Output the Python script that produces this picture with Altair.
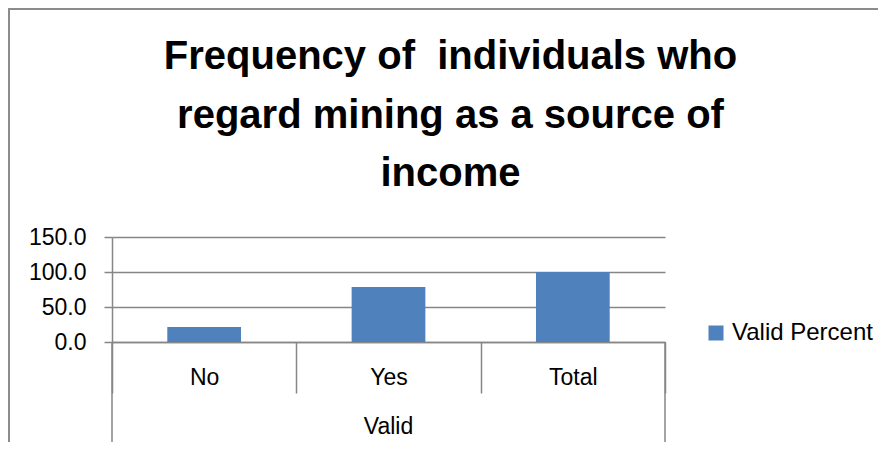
import altair as alt
import pandas as pd

categories = ["No", "Yes", "Total"]
valid_percent = [21.4, 78.6, 100.0]
series_name = "Valid Percent"
group_label = "Valid"
title_lines = ["Frequency of\u00a0 individuals who", "regard mining as a source of", "income"]
y_ticks = [0, 50, 100, 150]

df = pd.DataFrame({"cat": categories, "value": valid_percent, "series": [series_name] * len(categories)})
one = pd.DataFrame({"label": [group_label]})

W, H = 553, 105
FONT = "Liberation Sans"
GRAY = "#868686"

bars = alt.Chart(df).mark_bar(width=alt.RelativeBandSize(0.4), color="#4F81BD").encode(
    x=alt.X("cat:N", sort=categories, title=None,
            scale=alt.Scale(paddingInner=0, paddingOuter=0),
            axis=alt.Axis(tickBand="extent", tickSize=51, tickColor=GRAY, tickWidth=1.5,
                          domainColor=GRAY, domainWidth=1.5, labelAngle=0,
                          labelFont=FONT, labelFontSize=23, labelColor="black",
                          labelBaseline="middle", labelPadding=-16, grid=False)),
    y=alt.Y("value:Q", title=None,
            scale=alt.Scale(domain=[0, 150], nice=False),
            axis=alt.Axis(values=y_ticks, format=".1f", tickSize=8, tickColor=GRAY, tickWidth=1.5,
                          domainColor=GRAY, domainWidth=1.5, gridColor=GRAY, gridWidth=1.5,
                          labelFont=FONT, labelFontSize=23, labelColor="black", labelPadding=18)),
    color=alt.Color("series:N", scale=alt.Scale(range=["#4F81BD"]),
                    legend=alt.Legend(title=None, orient="none", legendX=592, legendY=84,
                                      symbolType="square", symbolSize=225, symbolStrokeWidth=0,
                                      labelFont=FONT, labelFontSize=24, labelColor="black",
                                      labelOffset=4, padding=0)),
)

outer = alt.Chart(one).mark_rule(color=GRAY, strokeWidth=1.5).encode(
    x=alt.value(0), y=alt.value(H), y2=alt.value(H + 103)
)
outer_r = alt.Chart(one).mark_rule(color=GRAY, strokeWidth=1.5).encode(
    x=alt.value(W), y=alt.value(H), y2=alt.value(H + 103)
)
group_text = alt.Chart(one).mark_text(font=FONT, fontSize=23, color="black", baseline="middle").encode(
    x=alt.value(W / 2), y=alt.value(190), text="label:N"
)
frame_left = alt.Chart(one).mark_rule(color="#8c8c8c", strokeWidth=2).encode(
    x=alt.value(-103), y=alt.value(-229), y2=alt.value(H + 110)
)
frame_top = alt.Chart(one).mark_rule(color="#8c8c8c", strokeWidth=2).encode(
    x=alt.value(-103), x2=alt.value(W + 220), y=alt.value(-228)
)

chart = alt.layer(bars, outer, outer_r, group_text, frame_left, frame_top).properties(
    width=W, height=H,
    autosize=alt.AutoSizeParams(type="none"),
    padding={"left": 104, "top": 229, "right": 213, "bottom": 100},
    title=alt.TitleParams(title_lines, font=FONT, fontSize=40, fontWeight="bold", color="black",
                          anchor="middle", frame="group", baseline="alphabetic",
                          dx=62, dy=219, lineHeight=58.5, offset=0),
).configure_view(stroke=None)

chart.save("out.html", embed_options={"renderer": "svg", "actions": False})
